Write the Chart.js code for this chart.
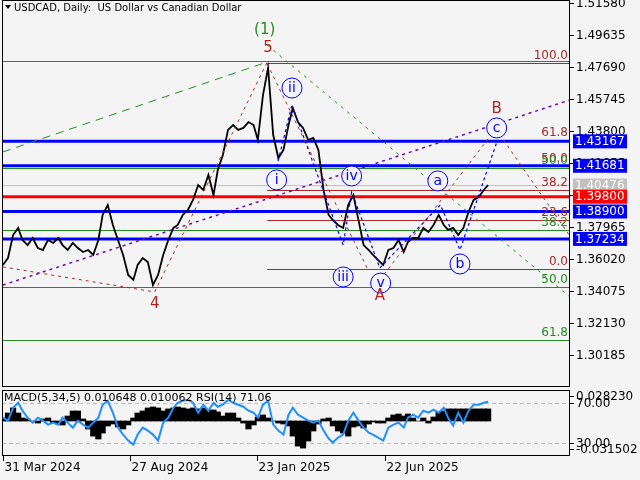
<!DOCTYPE html>
<html><head><meta charset="utf-8">
<script src="https://cdn.jsdelivr.net/npm/chart.js@4/dist/chart.umd.min.js"></script>
<style>
html,body{margin:0;padding:0;background:#f4f4f4;width:640px;height:480px;overflow:hidden}
#w1{position:absolute;left:0;top:0;width:640px;height:388px}
#w2{position:absolute;left:0;top:388px;width:640px;height:92px}
</style></head><body>
<div id="w1"><canvas id="c1"></canvas></div>
<div id="w2"><canvas id="c2"></canvas></div>
<script>
const title = "USDCAD, Daily:  US Dollar vs Canadian Dollar";
const dayStep = 5.87;
const closes = [1.3565,1.3607,1.3747,1.3790,1.3717,1.3686,1.3729,1.3668,1.3656,1.3717,1.3699,1.3729,1.3686,1.3656,1.3699,1.3668,1.3644,1.3656,1.3626,1.3717,
1.3869,1.3930,1.3808,1.3717,1.3626,1.3504,1.3474,1.3565,1.3607,1.3583,1.3443,1.3504,1.3626,1.3717,1.3790,1.3808,1.3869,1.3899,1.3960,1.4051,
1.4021,1.4112,1.3990,1.4142,1.4234,1.4386,1.4416,1.4386,1.4398,1.4434,1.4416,1.4325,1.4598,1.4763,1.4355,1.4215,1.4264,1.4416,1.4519,1.4434,
1.4398,1.4325,1.4337,1.4264,1.4021,1.3869,1.3838,1.3808,1.3790,1.3930,1.3990,1.3838,1.3686,1.3656,1.3626,1.3595,1.3565,1.3656,1.3668,1.3717,
1.3644,1.3705,1.3729,1.3729,1.3790,1.3765,1.3808,1.3869,1.3808,1.3778,1.3790,1.3747,1.3790,1.3887,1.3960,1.3978,1.4021,1.4051];
const macd = [0.0034,0.0090,0.0147,0.0090,0.0034,0.0023,0,-0.0023,0.0023,0.0034,-0.0023,-0.0034,-0.0045,0.0056,0.0113,0.0113,0.0023,-0.0090,-0.0170,-0.0203,
-0.0136,-0.0056,-0.0034,-0.0068,-0.0090,-0.0045,0.0034,0.0090,0.0113,0.0147,0.0158,0.0147,0.0113,0.0136,0.0147,0.0158,0.0147,0.0136,0.0147,0.0136,
0.0147,0.0124,0.0124,0.0102,0.0056,0.0090,0.0090,0.0034,-0.0023,-0.0090,-0.0045,0.0045,0.0068,0.0034,0,-0.0023,-0.0034,-0.0056,-0.0170,-0.0283,
-0.0305,-0.0226,-0.0113,-0.0034,0.0023,0.0034,-0.0056,-0.0113,-0.0136,-0.0170,-0.0068,-0.0056,-0.0079,-0.0034,-0.0011,-0.0023,-0.0023,0.0034,0.0068,0.0079,
0.0056,0.0079,0.0034,0,0.0034,-0.0023,0.0045,0.0102,0.0113,0.0136,0.0136,0.0136,0.0136,0.0136,0.0136,0.0136,0.0136,0.0136];
const rsi = [55,52,65,70,62,55,50,55,52,48,50,48,55,50,45,52,48,45,50,55,68,72,60,45,38,32,28,38,45,42,38,32,50,55,65,70,72,73,70,60,
68,62,70,66,68,73,70,68,66,62,60,55,68,72,48,42,38,58,65,58,55,52,50,52,42,34,30,35,38,52,60,52,45,40,38,35,32,45,48,50,
45,55,58,55,62,60,63,60,65,55,47,60,50,62,68,68,70,71];
const priceTicks = [1.51580,1.49635,1.47690,1.45745,1.43800,1.41855,1.39910,1.37965,1.36020,1.34075,1.32130,1.30185];
const levelBoxes = [[1.43167,'#0000ff','#fff'],[1.41681,'#0000ff','#fff'],[1.40476,'#c0c0c0','#fff'],[1.39800,'#ff0000','#fff'],[1.38900,'#0000ff','#fff'],[1.37234,'#0000ff','#fff']];
const fibBrown = [[1.4795,'100.0'],[1.4325,'61.8'],[1.4167,'50.0'],[1.4021,'38.2'],[1.3838,'23.6'],[1.3540,'0.0']];
const fibGreen = [[1.4805,''],[1.4155,'50.0'],[1.3777,'38.2'],[1.3431,'50.0'],[1.3109,'61.8']];
const xTickDays = [0,149,298,448];
const xTickLabels = ['31 Mar 2024','27 Aug 2024','23 Jan 2025','22 Jun 2025'];
const waveLabels = [['(1)',307,1.4994,'#228b22',0],['5',311,1.4884,'#b22222',0],['4',178,1.3328,'#b22222',0],['i',321,1.4082,'#0000ff',1],
['ii',339,1.4641,'#0000ff',1],['iii',399,1.3492,'#0000ff',1],['iv',409,1.4106,'#0000ff',1],['v',443,1.3455,'#0000ff',1],['A',442,1.3376,'#b22222',0],
['a',510,1.4076,'#0000ff',1],['b',536,1.3571,'#0000ff',1],['c',579,1.4398,'#0000ff',1],['B',579,1.4513,'#b22222',0]];
const trendGreen = [[0,1.4252],[310,1.4799]];
const trendPurple = [[0,1.3443],[665,1.4568]];
const brownPath1 = [[0,1.3553],[178,1.3401],[310,1.4799]];
const greenDot = [[310,1.4902],[665,1.3370]];
const brownPath2 = [[310,1.4787],[427,1.3547]];
const brownPath3 = [[442,1.3474],[577,1.4386]];
const brownPath4 = [[587,1.4325],[665,1.3740]];
const bluePath = [[321,1.4161],[339,1.4538],[399,1.3686],[409,1.4009],[442,1.3547],[513,1.3930],[536,1.3656],[580,1.4325]];

const XMIN=-1, XMAX=665;
const pts = closes.map((c,i)=>({x:Math.round(i*dayStep),y:c}));
const toXY = a=>a.map(p=>({x:p[0],y:p[1]}));
const lineDS=(d,col,dash,w)=>({type:'line',data:toXY(d),borderColor:col,borderDash:dash,borderWidth:w||1,pointRadius:0,fill:false});

const hlines = {id:'hl',beforeDatasetsDraw(ch){
  const c=ch.ctx,a=ch.chartArea,y=ch.scales.y,x=ch.scales.x;
  c.save();
  const x5=x.getPixelForValue(310);
  fibGreen.forEach(f=>{c.strokeStyle='#228b22';c.lineWidth=1;c.beginPath();const p=Math.round(y.getPixelForValue(f[0]))+0.5;c.moveTo(a.left,p);c.lineTo(a.right,p);c.stroke();});
  fibBrown.forEach(f=>{c.strokeStyle='#a52a2a';c.lineWidth=1;c.beginPath();const p=Math.round(y.getPixelForValue(f[0]))+0.5;c.moveTo(x5,p);c.lineTo(a.right,p);c.stroke();});
  levelBoxes.forEach(l=>{c.strokeStyle=l[1]==='#c0c0c0'?'#c0c0c0':l[1];c.lineWidth=l[1]==='#c0c0c0'?1:3;c.beginPath();const p=y.getPixelForValue(l[0]);c.moveTo(a.left,p);c.lineTo(a.right,p);c.stroke();});
  c.restore();
},afterDraw(ch){
  const c=ch.ctx,a=ch.chartArea,y=ch.scales.y,x=ch.scales.x;
  c.save();
  c.font='12px "DejaVu Sans"';c.textAlign='right';c.textBaseline='bottom';
  fibBrown.forEach(f=>{c.fillStyle='#a52a2a';c.fillText(f[1],a.right-2,y.getPixelForValue(f[0])-1);});
  fibGreen.forEach(f=>{if(f[1]){c.fillStyle='#228b22';c.fillText(f[1],a.right-2,y.getPixelForValue(f[0])-1);}});
  c.textAlign='center';c.textBaseline='middle';
  waveLabels.forEach(w=>{const px=x.getPixelForValue(w[1]),py=y.getPixelForValue(w[2]);
    if(w[4]){c.fillStyle='#f4f4f4';c.beginPath();c.arc(px,py,10,0,Math.PI*2);c.fill();c.strokeStyle='#0000ff';c.lineWidth=1;c.stroke();c.font='14px "DejaVu Sans"';}
    else c.font='15px "DejaVu Sans"';
    c.fillStyle=w[3];c.fillText(w[0],px,py);});
  c.strokeStyle='#000';c.lineWidth=1;c.strokeRect(a.left+0.5,a.top+0.5,a.right-a.left-1,a.bottom-a.top-1);
  c.font='12px "DejaVu Sans"';c.textAlign='left';c.fillStyle='#000';
  priceTicks.forEach(t=>{const p=Math.round(y.getPixelForValue(t))+0.5;c.beginPath();c.moveTo(a.right,p);c.lineTo(a.right+4,p);c.stroke();c.fillText(t.toFixed(5),a.right+6,p);});
  levelBoxes.forEach(l=>{const p=y.getPixelForValue(l[0]);c.fillStyle=l[1];c.fillRect(a.right+3,p-7,54,14);c.fillStyle=l[2];c.fillText(l[0].toFixed(5),a.right+5,p+0.5);});
  c.fillStyle='#000';c.font='10px "DejaVu Sans"';c.textBaseline='top';
  c.beginPath();c.moveTo(5,5);c.lineTo(11,5);c.lineTo(8,9);c.closePath();c.fill();
  c.fillText(title,14,3);
  c.restore();
}};
new Chart(document.getElementById('c1'),{
  data:{datasets:[
    lineDS(trendGreen,'#228b22',[8,6]),
    lineDS(trendPurple,'#6a0dad',[3,4],1.5),
    lineDS(brownPath1,'#a52a2a',[3,4]),
    lineDS(greenDot,'#228b22',[3,5]),
    lineDS(brownPath2,'#a52a2a',[3,4]),
    lineDS(brownPath3,'#a52a2a',[3,4]),
    lineDS(brownPath4,'#a52a2a',[3,4]),
    lineDS(bluePath,'#0000ff',[3,3],1.2),
    {type:'line',data:pts,borderColor:'#000',borderWidth:1.8,pointRadius:0,tension:0}
  ]},
  options:{responsive:true,maintainAspectRatio:false,animation:false,
    layout:{padding:{left:2,right:70,top:0,bottom:1}},
    plugins:{legend:{display:false},tooltip:{enabled:false}},
    scales:{x:{type:'linear',min:XMIN,max:XMAX,display:false},y:{min:1.2823,max:1.5176,display:false}}},
  plugins:[hlines]});

const sub={id:'sub',afterDraw(ch){
  const c=ch.ctx,a=ch.chartArea,m=ch.scales.ym,r=ch.scales.yr,x=ch.scales.x;
  c.save();c.strokeStyle='#000';c.lineWidth=1;c.strokeRect(a.left+0.5,a.top+0.5,a.right-a.left-1,a.bottom-a.top-1);
  c.font='12px "DejaVu Sans"';c.fillStyle='#000';c.textBaseline='middle';c.textAlign='left';
  [[m.getPixelForValue(0.028230),'0.028230'],[r.getPixelForValue(70),'70.00'],[r.getPixelForValue(30),'30.00'],[m.getPixelForValue(-0.031502),'-0.031502']]
   .forEach(t=>{const p=Math.round(t[0])+0.5;c.beginPath();c.moveTo(a.right,p);c.lineTo(a.right+4,p);c.stroke();c.fillText(t[1],a.right+6,p);});
  c.textBaseline='top';
  xTickDays.forEach((d,i)=>{const p=Math.round(x.getPixelForValue(d))+0.5;c.beginPath();c.moveTo(p,a.bottom);c.lineTo(p,a.bottom+5);c.stroke();c.fillText(xTickLabels[i],p+1,a.bottom+6);});
  c.font='11px "DejaVu Sans"';c.fillText('MACD(5,34,5) 0.010648 0.010062 RSI(14) 71.06',4,a.top+3);
  c.restore();
},beforeDatasetsDraw(ch){
  const c=ch.ctx,a=ch.chartArea,r=ch.scales.yr;c.save();c.strokeStyle='#bbb';c.setLineDash([4,3]);
  [70,30].forEach(v=>{const p=Math.round(r.getPixelForValue(v))+0.5;c.beginPath();c.moveTo(a.left,p);c.lineTo(a.right,p);c.stroke();});c.restore();}};
new Chart(document.getElementById('c2'),{
  data:{datasets:[
    {type:'line',data:rsi.map((v,i)=>({x:Math.round(i*dayStep),y:v})),yAxisID:'yr',borderColor:'#1e90ff',borderWidth:2,pointRadius:0,order:0},
    {type:'bar',data:macd.map((v,i)=>({x:Math.round(i*dayStep),y:v})),yAxisID:'ym',backgroundColor:'#000',barThickness:5.5,order:1}
  ]},
  options:{responsive:true,maintainAspectRatio:false,animation:false,
    layout:{padding:{left:2,right:70,top:2,bottom:24}},
    plugins:{legend:{display:false},tooltip:{enabled:false}},
    scales:{x:{type:'linear',min:XMIN,max:XMAX,display:false,offset:false},
      yr:{axis:'y',min:16.5,max:82.8,display:false},ym:{axis:'y',min:-0.0394,max:0.0349,display:false}}},
  plugins:[sub]});
</script></body></html>
